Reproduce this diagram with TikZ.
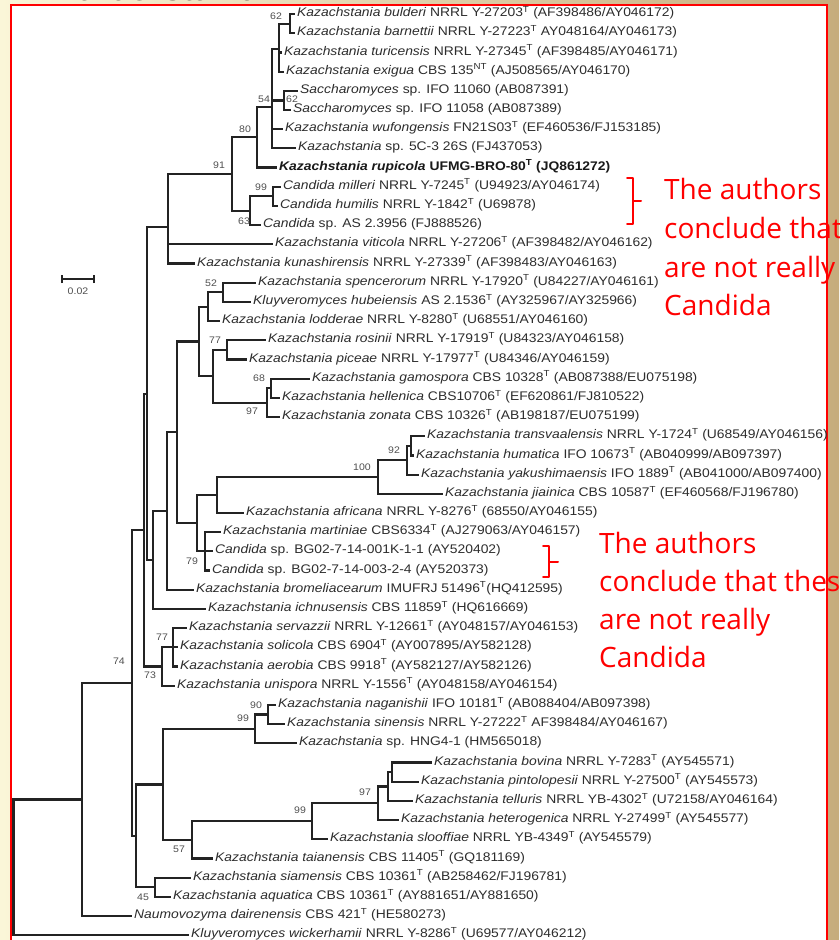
\documentclass[tikz,border=0pt]{standalone}
\usepackage{fontspec}
\setmainfont{Liberation Sans}
\newfontfamily\treefont[FakeStretch=1.11]{Liberation Sans}
\newfontfamily\annfont{Open Sans}
\newcommand\tsup[1]{\textsuperscript{#1}}
\definecolor{brc}{RGB}{35,35,35}
\definecolor{txc}{RGB}{45,45,45}
\definecolor{bsc}{RGB}{80,80,80}
\definecolor{annred}{RGB}{255,0,0}
\definecolor{bgL}{RGB}{250,246,216}
\definecolor{bgR}{RGB}{198,172,124}
\begin{document}
\begin{tikzpicture}[x=1pt,y=-1pt,
  br/.style={line width=2.2pt, draw=brc, line cap=rect, line join=miter},
  leaf/.style={anchor=mid west, inner xsep=3pt, inner ysep=0pt, text=txc, font=\treefont\fontsize{12.5}{14}\selectfont},
  bs/.style={inner sep=0pt, text=bsc, font=\treefont\fontsize{9.5}{11}\selectfont},
  ann/.style={anchor=base west, inner sep=0pt, text=annred, font=\annfont\fontsize{28}{32}\selectfont},
  brace/.style={line width=2pt, draw=annred, line cap=round, line join=round}]
\useasboundingbox (0,0) rectangle (839,940);
\clip (0,0) rectangle (839,940);
% background
\shade[left color=bgL, right color=bgR] (0,0) rectangle (839,940);
\node[anchor=base west, inner sep=0pt, text=black!85, font=\annfont\fontsize{33}{36}\selectfont] (title) at (57,0.8) {Kazachstania};
\draw[fill=white, draw=red, line width=2.5pt] (11,5) rectangle (827,970);

% leaves
\node[leaf] (t1) at (294,14.0) {\textit{Kazachstania bulderi} NRRL Y-27203\tsup{T} (AF398486/AY046172)};
\node[leaf] (t2) at (294,33.2) {\textit{Kazachstania barnettii} NRRL Y-27223\tsup{T} AY048164/AY046173)};
\node[leaf] (t3) at (281,52.4) {\textit{Kazachstania turicensis} NRRL Y-27345\tsup{T} (AF398485/AY046171)};
\node[leaf] (t4) at (283,71.6) {\textit{Kazachstania exigua} CBS 135\tsup{NT} (AJ508565/AY046170)};
\node[leaf] (t5) at (297,90.8) {\textit{Saccharomyces} sp. IFO 11060 (AB087391)};
\node[leaf] (t6) at (290,110.0) {\textit{Saccharomyces} sp. IFO 11058 (AB087389)};
\node[leaf] (t7) at (282,129.1) {\textit{Kazachstania wufongensis} FN21S03\tsup{T} (EF460536/FJ153185)};
\node[leaf] (t8) at (295,148.3) {\textit{Kazachstania} sp. 5C-3 26S (FJ437053)};
\node[leaf, text=black!90, font=\treefont\bfseries\fontsize{12.5}{14}\selectfont] (t9) at (276,167.5) {\textit{Kazachstania rupicola} UFMG-BRO-80\tsup{T} (JQ861272)};
\node[leaf] (t10) at (280,186.7) {\textit{Candida milleri} NRRL Y-7245\tsup{T} (U94923/AY046174)};
\node[leaf] (t11) at (277,205.9) {\textit{Candida humilis} NRRL Y-1842\tsup{T} (U69878)};
\node[leaf] (t12) at (260,225.1) {\textit{Candida} sp. AS 2.3956 (FJ888526)};
\node[leaf] (t13) at (272,244.3) {\textit{Kazachstania viticola} NRRL Y-27206\tsup{T} (AF398482/AY046162)};
\node[leaf] (t14) at (194,263.5) {\textit{Kazachstania kunashirensis} NRRL Y-27339\tsup{T} (AF398483/AY046163)};
\node[leaf] (t15) at (255,282.7) {\textit{Kazachstania spencerorum} NRRL Y-17920\tsup{T} (U84227/AY046161)};
\node[leaf] (t16) at (250,301.9) {\textit{Kluyveromyces hubeiensis} AS 2.1536\tsup{T} (AY325967/AY325966)};
\node[leaf] (t17) at (219,321.0) {\textit{Kazachstania lodderae} NRRL Y-8280\tsup{T} (U68551/AY046160)};
\node[leaf] (t18) at (265,340.2) {\textit{Kazachstania rosinii} NRRL Y-17919\tsup{T} (U84323/AY046158)};
\node[leaf] (t19) at (246,359.4) {\textit{Kazachstania piceae} NRRL Y-17977\tsup{T} (U84346/AY046159)};
\node[leaf] (t20) at (309,378.6) {\textit{Kazachstania gamospora} CBS 10328\tsup{T} (AB087388/EU075198)};
\node[leaf] (t21) at (279,397.8) {\textit{Kazachstania hellenica} CBS10706\tsup{T} (EF620861/FJ810522)};
\node[leaf] (t22) at (279,417.0) {\textit{Kazachstania zonata} CBS 10326\tsup{T} (AB198187/EU075199)};
\node[leaf] (t23) at (424,436.2) {\textit{Kazachstania transvaalensis} NRRL Y-1724\tsup{T} (U68549/AY046156)};
\node[leaf] (t24) at (413,455.4) {\textit{Kazachstania humatica} IFO 10673\tsup{T} (AB040999/AB097397)};
\node[leaf] (t25) at (418,474.6) {\textit{Kazachstania yakushimaensis} IFO 1889\tsup{T} (AB041000/AB097400)};
\node[leaf] (t26) at (442,493.8) {\textit{Kazachstania jiainica} CBS 10587\tsup{T} (EF460568/FJ196780)};
\node[leaf] (t27) at (243,513.0) {\textit{Kazachstania africana} NRRL Y-8276\tsup{T} (68550/AY046155)};
\node[leaf] (t28) at (220,532.1) {\textit{Kazachstania martiniae} CBS6334\tsup{T} (AJ279063/AY046157)};
\node[leaf] (t29) at (212,551.3) {\textit{Candida} sp. BG02-7-14-001K-1-1 (AY520402)};
\node[leaf] (t30) at (209,570.5) {\textit{Candida} sp. BG02-7-14-003-2-4 (AY520373)};
\node[leaf] (t31) at (193,589.7) {\textit{Kazachstania bromeliacearum} IMUFRJ 51496\tsup{T}(HQ412595)};
\node[leaf] (t32) at (205,608.9) {\textit{Kazachstania ichnusensis} CBS 11859\tsup{T} (HQ616669)};
\node[leaf] (t33) at (186,628.1) {\textit{Kazachstania servazzii} NRRL Y-12661\tsup{T} (AY048157/AY046153)};
\node[leaf] (t34) at (177,647.3) {\textit{Kazachstania solicola} CBS 6904\tsup{T} (AY007895/AY582128)};
\node[leaf] (t35) at (177,666.5) {\textit{Kazachstania aerobia} CBS 9918\tsup{T} (AY582127/AY582126)};
\node[leaf] (t36) at (174,685.7) {\textit{Kazachstania unispora} NRRL Y-1556\tsup{T} (AY048158/AY046154)};
\node[leaf] (t37) at (275,704.9) {\textit{Kazachstania naganishii} IFO 10181\tsup{T} (AB088404/AB097398)};
\node[leaf] (t38) at (284,724.1) {\textit{Kazachstania sinensis} NRRL Y-27222\tsup{T} AF398484/AY046167)};
\node[leaf] (t39) at (296,743.3) {\textit{Kazachstania} sp. HNG4-1 (HM565018)};
\node[leaf] (t40) at (431,762.4) {\textit{Kazachstania bovina} NRRL Y-7283\tsup{T} (AY545571)};
\node[leaf] (t41) at (418,781.6) {\textit{Kazachstania pintolopesii} NRRL Y-27500\tsup{T} (AY545573)};
\node[leaf] (t42) at (412,800.8) {\textit{Kazachstania telluris} NRRL YB-4302\tsup{T} (U72158/AY046164)};
\node[leaf] (t43) at (398,820.0) {\textit{Kazachstania heterogenica} NRRL Y-27499\tsup{T} (AY545577)};
\node[leaf] (t44) at (327,839.2) {\textit{Kazachstania slooffiae} NRRL YB-4349\tsup{T} (AY545579)};
\node[leaf] (t45) at (212,858.4) {\textit{Kazachstania taianensis} CBS 11405\tsup{T} (GQ181169)};
\node[leaf] (t46) at (190,877.6) {\textit{Kazachstania siamensis} CBS 10361\tsup{T} (AB258462/FJ196781)};
\node[leaf] (t47) at (170,896.8) {\textit{Kazachstania aquatica} CBS 10361\tsup{T} (AY881651/AY881650)};
\node[leaf] (t48) at (131,916.0) {\textit{Naumovozyma dairenensis} CBS 421\tsup{T} (HE580273)};
\node[leaf] (t49) at (188,935.2) {\textit{Kluyveromyces wickerhamii} NRRL Y-8286\tsup{T} (U69577/AY046212)};

% internal nodes
\coordinate (n62a) at (290,23.6);
\coordinate (n280) at (279,49.2);
\coordinate (nSac) at (284,100.4);
\coordinate (n54) at (272,106.8);
\coordinate (n80) at (257,137.1);
\coordinate (n99c) at (273,196.3);
\coordinate (n63) at (250,210.7);
\coordinate (n91) at (232,173.9);
\coordinate (nD) at (168,227.2);
\coordinate (n52) at (223,292.3);
\coordinate (nM) at (208,306.7);
\coordinate (n77a) at (227,349.8);
\coordinate (n68) at (271,388.2);
\coordinate (n97a) at (267,402.6);
\coordinate (nN) at (213,376.2);
\coordinate (nL) at (199,341.4);
\coordinate (nTH) at (411,445.8);
\coordinate (n92) at (407,460.2);
\coordinate (n100) at (378,477.0);
\coordinate (nO) at (217,495.0);
\coordinate (n79) at (205,551.3);
\coordinate (nK) at (197,523.2);
\coordinate (nJ) at (177,432.3);
\coordinate (nI) at (167,511.0);
\coordinate (nH) at (153,560.0);
\coordinate (nG) at (147,393.6);
\coordinate (n77b) at (173,647.3);
\coordinate (n73) at (162,666.5);
\coordinate (nF) at (144,530.0);
\coordinate (n90) at (268,714.5);
\coordinate (n99d) at (255,728.9);
\coordinate (nQ) at (392,772.0);
\coordinate (nP) at (388,786.4);
\coordinate (n97b) at (378,803.2);
\coordinate (n99e) at (312,821.2);
\coordinate (n57) at (192,839.8);
\coordinate (nC) at (163,784.4);
\coordinate (n45) at (155,887.2);
\coordinate (nB) at (136,835.8);
\coordinate (n74) at (132,682.9);
\coordinate (nA) at (82,799.5);
\coordinate (root) at (13.5,867.4);

% branches
\draw[br] (n62a) |- (t1.mid west) (n62a) |- (t2.mid west);
\draw[br] (n280) |- (n62a) (n280) |- (t3.mid west) (n280) |- (t4.mid west);
\draw[br] (nSac) |- (t5.mid west) (nSac) |- (t6.mid west);
\draw[br] (n54) |- (n280) (n54) |- (nSac) (n54) |- (t7.mid west) (n54) |- (t8.mid west);
\draw[br] (n80) |- (n54) (n80) |- (t9.mid west);
\draw[br] (n99c) |- (t10.mid west) (n99c) |- (t11.mid west);
\draw[br] (n63) |- (n99c) (n63) |- (t12.mid west);
\draw[br] (n91) |- (n80) (n91) |- (n63);
\draw[br] (nD) |- (n91) (nD) |- (t13.mid west) (nD) |- (t14.mid west);
\draw[br] (n52) |- (t15.mid west) (n52) |- (t16.mid west);
\draw[br] (nM) |- (n52) (nM) |- (t17.mid west);
\draw[br] (n77a) |- (t18.mid west) (n77a) |- (t19.mid west);
\draw[br] (n68) |- (t20.mid west) (n68) |- (t21.mid west);
\draw[br] (n97a) |- (n68) (n97a) |- (t22.mid west);
\draw[br] (nN) |- (n77a) (nN) |- (n97a);
\draw[br] (nL) |- (nM) (nL) |- (nN);
\draw[br] (nTH) |- (t23.mid west) (nTH) |- (t24.mid west);
\draw[br] (n92) |- (nTH) (n92) |- (t25.mid west);
\draw[br] (n100) |- (n92) (n100) |- (t26.mid west);
\draw[br] (nO) |- (n100) (nO) |- (t27.mid west);
\draw[br] (n79) |- (t28.mid west) (n79) |- (t29.mid west) (n79) |- (t30.mid west);
\draw[br] (nK) |- (nO) (nK) |- (n79);
\draw[br] (nJ) |- (nL) (nJ) |- (nK);
\draw[br] (nI) |- (nJ) (nI) |- (t31.mid west);
\draw[br] (nH) |- (nI) (nH) |- (t32.mid west);
\draw[br] (nG) |- (nD) (nG) |- (nH);
\draw[br] (n77b) |- (t33.mid west) (n77b) |- (t34.mid west) (n77b) |- (t35.mid west);
\draw[br] (n73) |- (n77b) (n73) |- (t36.mid west);
\draw[br] (nF) |- (nG) (nF) |- (n73);
\draw[br] (n90) |- (t37.mid west) (n90) |- (t38.mid west);
\draw[br] (n99d) |- (n90) (n99d) |- (t39.mid west);
\draw[br] (nQ) |- (t40.mid west) (nQ) |- (t41.mid west);
\draw[br] (nP) |- (nQ) (nP) |- (t42.mid west);
\draw[br] (n97b) |- (nP) (n97b) |- (t43.mid west);
\draw[br] (n99e) |- (n97b) (n99e) |- (t44.mid west);
\draw[br] (n57) |- (n99e) (n57) |- (t45.mid west);
\draw[br] (nC) |- (n99d) (nC) |- (n57);
\draw[br] (n45) |- (t46.mid west) (n45) |- (t47.mid west);
\draw[br] (nB) |- (nC) (nB) |- (n45);
\draw[br] (n74) |- (nF) (n74) |- (nB);
\draw[br] (nA) |- (n74) (nA) |- (t48.mid west);
\draw[br] (root) |- (nA) (root) |- (t49.mid west);

% bootstrap values
\node[bs] (b1) at (276,16) {62};
\node[bs] (b2) at (292,99) {62};
\node[bs] (b3) at (264,99) {54};
\node[bs] (b4) at (245,129) {80};
\node[bs] (b5) at (219,165) {91};
\node[bs] (b6) at (261,187) {99};
\node[bs] (b7) at (244,221) {63};
\node[bs] (b8) at (211,283) {52};
\node[bs] (b9) at (215,340) {77};
\node[bs] (b10) at (259,378) {68};
\node[bs] (b11) at (252,411) {97};
\node[bs] (b12) at (394,450) {92};
\node[bs] (b13) at (362,467) {100};
\node[bs] (b14) at (192,561) {79};
\node[bs] (b15) at (162,637) {77};
\node[bs] (b16) at (150,675) {73};
\node[bs] (b17) at (119,661) {74};
\node[bs] (b18) at (256,705) {90};
\node[bs] (b19) at (243,718) {99};
\node[bs] (b20) at (365,792) {97};
\node[bs] (b21) at (300,810) {99};
\node[bs] (b22) at (179,849) {57};
\node[bs] (b23) at (143,897) {45};

% scale bar
\coordinate (sbL) at (62,279);
\coordinate (sbR) at (94,279);
\draw[line width=2.2pt, draw=brc] (sbL) -- (sbR);
\draw[line width=1.8pt, draw=brc] ([yshift=-4pt]sbL) -- ([yshift=4pt]sbL);
\draw[line width=1.8pt, draw=brc] ([yshift=-4pt]sbR) -- ([yshift=4pt]sbR);
\node[bs] (sbt) at (78,291) {0.02};

% annotations
\coordinate (k1t) at (627,178);
\coordinate (k1m) at (641,201);
\coordinate (k1b) at (627,224);
\draw[brace] (k1t) -| (633,201) -- (k1m) (633,201) |- (k1b);
\coordinate (k2t) at (543,546);
\coordinate (k2m) at (558,562);
\coordinate (k2b) at (543,577);
\draw[brace] (k2t) -| (549,562) -- (k2m) (549,562) |- (k2b);

\node[ann] (a1) at (664,199) {The authors};
\node[ann] (a2) at (664,238) {conclude that these};
\node[ann] (a3) at (664,277) {are not really};
\node[ann] (a4) at (664,315) {Candida};
\node[ann] (c1) at (599,553) {The authors};
\node[ann] (c2) at (599,591) {conclude that these};
\node[ann] (c3) at (599,629) {are not really};
\node[ann] (c4) at (599,667) {Candida};
\end{tikzpicture}
\end{document}
